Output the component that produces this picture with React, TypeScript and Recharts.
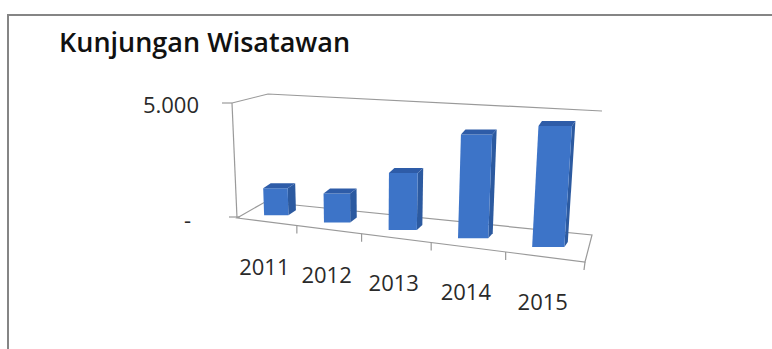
import React from 'react';
import { BarChart, Bar, XAxis, YAxis, Customized } from 'recharts';

// ---------- data ----------
const years: string[] = ['2011', '2012', '2013', '2014', '2015'];
const visitors: number[] = [1180, 1240, 2390, 4260, 4860];
const yTicks: number[] = [0, 5000];
const yTickLabels: string[] = ['-', '5.000'];
const chartTitle = 'Kunjungan Wisatawan';

const data = years.map((year, i) => ({ year, value: visitors[i] }));

// ---------- layout ----------
const W = 772;
const H = 349;
const PLOT_LEFT = 237;
const PLOT_RIGHT = 586;
const PLOT_TOP = 103;
const PLOT_BOTTOM = 218;
const PLOT_W = PLOT_RIGHT - PLOT_LEFT;
const Y_AXIS_W = 60;
const X_AXIS_H = 30;

const FONT = '"Open Sans", "Noto Sans", sans-serif';

// perspective floor (front-left, front-right, back-left, back-right)
const FL = { x: 237, y: 218 };
const FR = { x: 585, y: 262 };
const BL = { x: 265, y: 202 };
const BR = { x: 592, y: 235 };
const WALL_TL_FRONT = { x: 232, y: 103 };
const WALL_TL_BACK = { x: 268, y: 94 };
const WALL_TR_BACK = { x: 602, y: 111 };

const persp = (u: number) => 0.825 * u + 0.175 * u * u;
const floorPt = (u: number, d: number) => {
  const g = persp(u);
  const fx = FL.x + g * (FR.x - FL.x);
  const fy = FL.y + g * (FR.y - FL.y);
  const bx = BL.x + g * (BR.x - BL.x);
  const by = BL.y + g * (BR.y - BL.y);
  return { x: fx + d * (bx - fx), y: fy + d * (by - fy) };
};
const heightScale = (u: number) => 0.981 + 0.114 * u;
const lean = (h: number, X: number) => h * 0.000323 * (X - 370);
const toU = (px: number) => (px - PLOT_LEFT) / PLOT_W;
const BAR_DEPTH = 0.38;

const FRONT = '#3d74c8';
const SIDE = '#2c5aa0';
const TOP = '#2e5ca8';
const FRAME = '#9a9a9a';

const Bar3D = (props: any) => {
  const { x, width, height } = props;
  if (height == null || width == null) return null;
  const uc = toU(x + width / 2);
  const xl = floorPt(toU(x), BAR_DEPTH).x;
  const xr = floorPt(toU(x + width), BAR_DEPTH).x;
  const base = floorPt(uc, BAR_DEPTH).y;
  const h = height * heightScale(uc);
  const top = base - h;
  const ll = lean(h, xl);
  const lr = lean(h, xr);
  const sdx = 8 - 5 * uc;
  const sdy = -5;
  const front = `${xl},${base} ${xr},${base} ${xr + lr},${top} ${xl + ll},${top}`;
  const side = `${xr},${base} ${xr + sdx},${base + sdy} ${xr + lr + sdx},${top + sdy} ${xr + lr},${top}`;
  const cap = `${xl + ll},${top} ${xr + lr},${top} ${xr + lr + sdx},${top + sdy} ${xl + ll + sdx},${top + sdy}`;
  return (
    <g>
      <polygon points={side} fill={SIDE} />
      <polygon points={front} fill={FRONT} />
      <polygon points={cap} fill={TOP} />
    </g>
  );
};

const XTick = (props: any) => {
  const { x, payload } = props;
  const p = floorPt(toU(x), 0);
  return (
    <text
      x={p.x - 2}
      y={p.y + 45}
      dy="0.36em"
      textAnchor="middle"
      fontFamily={FONT}
      fontSize={22}
      fill="#2a2a2a"
    >
      {payload.value}
    </text>
  );
};

const YTick = (props: any) => {
  const { y, payload } = props;
  const idx = yTicks.indexOf(payload.value);
  const label = yTickLabels[idx];
  const isZero = payload.value === 0;
  return (
    <text
      x={isZero ? PLOT_LEFT - 46 : PLOT_LEFT - 38}
      y={y + 2}
      dy="0.36em"
      textAnchor="end"
      fontFamily={FONT}
      fontSize={22}
      fill="#2a2a2a"
    >
      {label}
    </text>
  );
};

const Frame = () => {
  const ticks = [0.2, 0.4, 0.6, 0.8, 1].map((u) => floorPt(u, 0));
  return (
    <g>
      <rect x={8} y={15} width={W + 40} height={H + 40} fill="#ffffff" stroke="#858585" strokeWidth={2} />
      <text x={59} y={52} fontFamily={FONT} fontSize={27} fontWeight={650} fill="#111111">
        {chartTitle}
      </text>
      <g stroke={FRAME} strokeWidth={1.2} fill="none">
        <line x1={WALL_TL_FRONT.x} y1={WALL_TL_FRONT.y} x2={FL.x} y2={FL.y} />
        <line x1={WALL_TL_FRONT.x - 10} y1={WALL_TL_FRONT.y} x2={WALL_TL_FRONT.x} y2={WALL_TL_FRONT.y} />
        <line x1={FL.x - 8} y1={FL.y - 1} x2={FL.x + 3} y2={FL.y - 1} />
        <polyline points={`${WALL_TL_FRONT.x},${WALL_TL_FRONT.y} ${WALL_TL_BACK.x},${WALL_TL_BACK.y} ${WALL_TR_BACK.x},${WALL_TR_BACK.y}`} />
        <polygon points={`${FL.x},${FL.y} ${BL.x},${BL.y} ${BR.x},${BR.y} ${FR.x},${FR.y}`} />
        {ticks.map((t, i) => (
          <line key={i} x1={t.x} y1={t.y} x2={t.x - (i === 4 ? 1 : 0)} y2={t.y + 8} />
        ))}
      </g>
    </g>
  );
};

export default function App() {
  return (
    <div style={{ position: 'absolute', left: 0, top: 0, width: W, height: H, overflow: 'hidden', background: '#fff' }}>
      <BarChart
        width={W}
        height={H}
        data={data}
        margin={{ top: PLOT_TOP, right: W - PLOT_RIGHT, bottom: H - PLOT_BOTTOM - X_AXIS_H, left: PLOT_LEFT - Y_AXIS_W }}
        barCategoryGap="29%"
      >
        <Customized component={Frame} />
        <XAxis dataKey="year" height={X_AXIS_H} axisLine={false} tickLine={false} tick={<XTick />} interval={0} />
        <YAxis
          width={Y_AXIS_W}
          domain={[0, 5000]}
          ticks={yTicks}
          axisLine={false}
          tickLine={false}
          tick={<YTick />}
          interval={0}
        />
        <Bar dataKey="value" shape={<Bar3D />} isAnimationActive={false} />
      </BarChart>
    </div>
  );
}
